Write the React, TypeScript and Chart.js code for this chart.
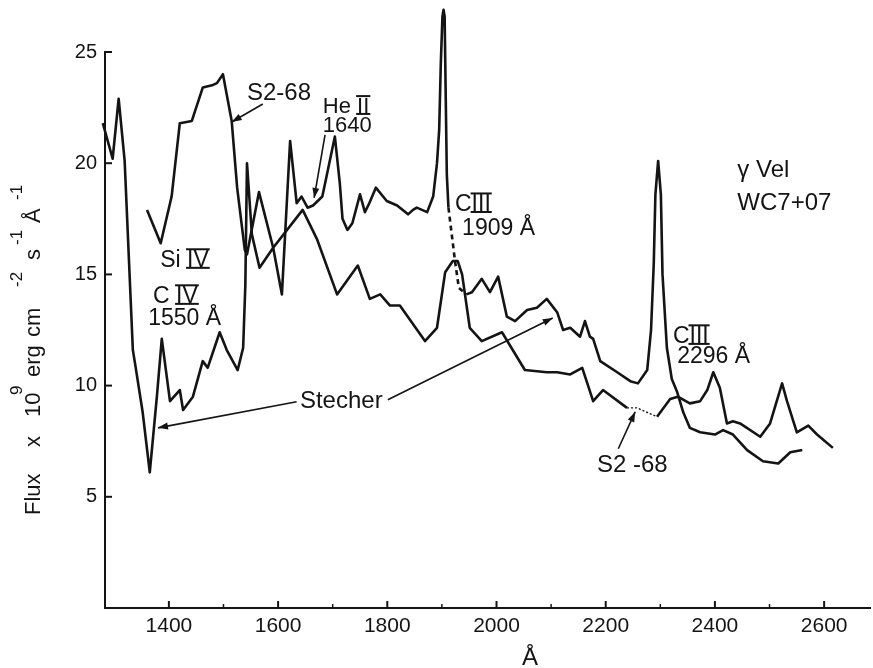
import React, { useEffect, useRef } from "react";
import { Chart, registerables } from "chart.js";

Chart.register(...registerables);

// ---- data (wavelength in Å, flux ×10^9 erg cm^-2 s^-1 Å^-1) ----
const STECHER_WL = [
  1279, 1297, 1308, 1319, 1334, 1338, 1352, 1365, 1378, 1387, 1402, 1420, 1426, 1444, 1462, 1471, 1493, 1506,
  1526, 1536, 1540, 1543, 1552, 1566, 1591, 1607, 1622, 1634, 1643, 1654, 1664, 1681, 1704, 1713, 1718, 1727,
  1736, 1750, 1759, 1767, 1779, 1799, 1818, 1838, 1847, 1854, 1873, 1884, 1891, 1895, 1898, 1901, 1903, 1905,
  1907, 1909, 1912, 1924, 1931, 1945, 1955, 1973, 1988, 2003, 2019, 2034, 2056, 2074, 2092, 2111, 2122, 2135,
  2153, 2162, 2171, 2177, 2190, 2221, 2245, 2259, 2276, 2283, 2288, 2291, 2296, 2301, 2304, 2312, 2321, 2331,
  2342, 2354, 2373, 2400, 2415, 2433, 2459, 2488, 2516, 2538, 2560,
];
const STECHER_FLUX = [
  21.8, 20.2, 22.9, 20.1, 11.6, 11.0, 8.8, 6.1, 9.5, 12.1, 9.3, 9.8, 8.9, 9.5, 11.1, 10.8, 12.4, 11.6,
  10.7, 11.7, 14.5, 20.0, 16.8, 15.3, 16.2, 14.1, 21.0, 18.2, 18.5, 18.0, 18.1, 18.5, 21.2, 19.1, 17.5, 17.0,
  17.3, 18.6, 17.8, 18.2, 18.9, 18.3, 18.1, 17.7, 17.9, 18.0, 17.8, 18.5, 20.0, 21.5, 24.5, 26.6, 26.9, 26.6,
  23.0, 19.5, 18.0, 15.6, 14.4, 14.1, 14.2, 14.8, 14.2, 14.9, 13.1, 12.9, 13.4, 13.5, 13.9, 13.3, 12.5, 12.6,
  12.2, 12.9, 12.2, 12.1, 11.1, 10.6, 10.2, 10.1, 10.7, 12.5, 15.5, 18.6, 20.1, 18.6, 15.0, 11.7, 10.3, 9.7,
  8.8, 8.1, 7.9, 7.8, 8.0, 7.8, 7.1, 6.6, 6.5, 7.0, 7.1,
];
const S268_WL = [
  1360, 1385, 1405, 1420, 1442, 1462, 1479, 1488, 1499, 1515, 1525, 1534, 1539, 1543, 1565, 1591, 1645, 1671,
  1708, 1746, 1768, 1787, 1805, 1823, 1869, 1891, 1906, 1920, 1929, 1937, 1951, 1973, 2010, 2052, 2092, 2111,
  2135, 2157, 2177, 2195, 2239, 2257, 2294, 2318, 2332, 2354, 2373, 2386, 2397, 2409, 2422, 2433, 2446, 2483,
  2501, 2523, 2532, 2550, 2571, 2587, 2616,
];
const S268_FLUX = [
  17.9, 16.4, 18.5, 21.8, 21.9, 23.4, 23.5, 23.6, 24.0, 21.9, 18.9, 17.1, 16.1, 15.9, 18.7, 16.2, 17.9, 16.6,
  14.1, 15.4, 13.9, 14.1, 13.6, 13.6, 12.0, 12.6, 15.1, 15.6, 15.6, 15.0, 12.6, 12.0, 12.4, 10.7, 10.6, 10.6,
  10.5, 10.8, 9.3, 9.8, 9.0, 9.0, 8.6, 9.4, 9.5, 9.2, 9.3, 9.8, 10.6, 9.9, 8.3, 8.4, 8.3, 7.7,
  8.3, 10.1, 9.3, 7.9, 8.2, 7.8, 7.2,
];
const STECHER_DASHED = [1912, 1945];
const S268_DOTTED = [2239, 2294];

const X_MIN = 1283;
const X_MAX = 2684;
const Y_MIN = 0;
const Y_MAX = 25;
const X_TICKS = [1400, 1600, 1800, 2000, 2200, 2400, 2600];
const X_MINOR = [1500, 1700, 1900, 2100, 2300, 2500];
const Y_TICKS = [5, 10, 15, 20, 25];

// annotation texts, anchored in data units (left edge, baseline)
type Part = { t: string; roman?: boolean };
const LABELS: { parts: Part[]; wl: number; flux: number; size: number }[] = [
  { parts: [{ t: "S2-68" }], wl: 1543, flux: 22.84, size: 24 },
  { parts: [{ t: "He " }, { t: "II", roman: true }], wl: 1682, flux: 22.26, size: 22 },
  { parts: [{ t: "1640" }], wl: 1682, flux: 21.4, size: 22 },
  { parts: [{ t: "Si " }, { t: "IV", roman: true }], wl: 1384, flux: 15.34, size: 23 },
  { parts: [{ t: "C " }, { t: "IV", roman: true }], wl: 1371, flux: 13.72, size: 23 },
  { parts: [{ t: "1550 Å" }], wl: 1362, flux: 12.73, size: 23 },
  { parts: [{ t: "Stecher" }], wl: 1640, flux: 9.0, size: 24 },
  { parts: [{ t: "C" }, { t: "III", roman: true }], wl: 1924, flux: 17.85, size: 23 },
  { parts: [{ t: "1909 Å" }], wl: 1937, flux: 16.77, size: 23 },
  { parts: [{ t: "γ Vel" }], wl: 2441, flux: 19.38, size: 24 },
  { parts: [{ t: "WC7+07" }], wl: 2441, flux: 17.9, size: 24 },
  { parts: [{ t: "C" }, { t: "III", roman: true }], wl: 2323, flux: 11.92, size: 23 },
  { parts: [{ t: "2296 Å" }], wl: 2331, flux: 11.02, size: 23 },
  { parts: [{ t: "S2 -68" }], wl: 2184, flux: 6.12, size: 24 },
];
// arrows: from (wl, flux) to (wl, flux), head at the end
const ARROWS = [
  [1572, 22.66, 1515, 21.85],
  [1686, 21.27, 1666, 18.44],
  [1634, 9.27, 1380, 8.1],
  [1801, 9.36, 2103, 13.04],
  [2223, 7.16, 2254, 8.82],
];

const INK = "#141414";
const FONT = "'Liberation Sans', Arial, sans-serif";

const decorPlugin = {
  id: "decor",
  afterDatasetsDraw(chart: any) {
    const { ctx, chartArea } = chart;
    const xs = chart.scales.x;
    const ys = chart.scales.y;
    ctx.save();
    ctx.strokeStyle = INK;
    ctx.fillStyle = INK;
    ctx.lineCap = "butt";

    // inward tick marks
    ctx.lineWidth = 2;
    const seg = (x1: number, y1: number, x2: number, y2: number) => {
      ctx.beginPath();
      ctx.moveTo(x1, y1);
      ctx.lineTo(x2, y2);
      ctx.stroke();
    };
    Y_TICKS.forEach((v) => {
      const py = ys.getPixelForValue(v);
      seg(chartArea.left, py, chartArea.left + 7, py);
    });
    X_TICKS.forEach((v) => {
      const px = xs.getPixelForValue(v);
      seg(px, chartArea.bottom, px, chartArea.bottom - 7);
    });
    ctx.lineWidth = 1.5;
    X_MINOR.forEach((v) => {
      const px = xs.getPixelForValue(v);
      seg(px, chartArea.bottom, px, chartArea.bottom - 4);
    });

    // text labels
    ctx.textBaseline = "alphabetic";
    ctx.textAlign = "left";
    LABELS.forEach((lab) => {
      let px = xs.getPixelForValue(lab.wl);
      const py = ys.getPixelForValue(lab.flux);
      ctx.font = `${lab.size}px ${FONT}`;
      lab.parts.forEach((p) => {
        ctx.fillText(p.t, px, py);
        const w = ctx.measureText(p.t).width;
        if (p.roman) {
          const cap = lab.size * 0.72;
          ctx.lineWidth = 2;
          seg(px - 1, py - cap - 1, px + w + 1, py - cap - 1);
          seg(px - 1, py + 1, px + w + 1, py + 1);
        }
        px += w;
      });
    });

    // arrows
    ARROWS.forEach(([w1, f1, w2, f2]) => {
      const x1 = xs.getPixelForValue(w1);
      const y1 = ys.getPixelForValue(f1);
      const x2 = xs.getPixelForValue(w2);
      const y2 = ys.getPixelForValue(f2);
      ctx.lineWidth = 1.6;
      seg(x1, y1, x2, y2);
      const a = Math.atan2(y2 - y1, x2 - x1);
      const L = 10;
      const H = 3.5;
      ctx.beginPath();
      ctx.moveTo(x2, y2);
      ctx.lineTo(x2 - L * Math.cos(a) + H * Math.sin(a), y2 - L * Math.sin(a) - H * Math.cos(a));
      ctx.lineTo(x2 - L * Math.cos(a) - H * Math.sin(a), y2 - L * Math.sin(a) + H * Math.cos(a));
      ctx.closePath();
      ctx.fill();
    });

    // x axis title
    ctx.font = `24px ${FONT}`;
    ctx.textAlign = "center";
    ctx.fillText("Å", 530, 665);

    // y axis title (rotated, with superscripts)
    const main = `22px ${FONT}`;
    const sup = `17px ${FONT}`;
    const pieces: [string, number, boolean][] = [
      ["Flux", 515, false],
      ["x", 447, false],
      ["10", 417, false],
      ["9", 395, true],
      ["erg", 377, false],
      ["cm", 337, false],
      ["-2", 287, true],
      ["s", 260, false],
      ["-1", 245, true],
      ["Å", 223, false],
      ["-1", 200, true],
    ];
    ctx.textAlign = "left";
    pieces.forEach(([t, yStart, isSup]) => {
      ctx.save();
      ctx.translate(isSup ? 22 : 40, yStart);
      ctx.rotate(-Math.PI / 2);
      ctx.font = isSup ? sup : main;
      ctx.fillText(t, 0, 0);
      ctx.restore();
    });

    ctx.restore();
  },
};

function inRange(a: number, b: number, r: number[]) {
  return a >= r[0] && b <= r[1];
}

export default function App() {
  const ref = useRef<HTMLCanvasElement | null>(null);

  useEffect(() => {
    if (!ref.current) return;
    const lineCommon = {
      borderColor: INK,
      borderWidth: 2.6,
      pointRadius: 0,
      tension: 0,
      clip: false as any,
      borderJoinStyle: "round" as const,
      fill: false,
    };
    const chart = new Chart(ref.current, {
      type: "line",
      data: {
        datasets: [
          {
            ...lineCommon,
            label: "Stecher",
            data: STECHER_WL.map((w, i) => ({ x: w, y: STECHER_FLUX[i] })),
            segment: {
              borderDash: (c: any) =>
                inRange(STECHER_WL[c.p0DataIndex], STECHER_WL[c.p1DataIndex], STECHER_DASHED) ? [5, 4] : undefined,
            },
          },
          {
            ...lineCommon,
            label: "S2-68",
            data: S268_WL.map((w, i) => ({ x: w, y: S268_FLUX[i] })),
            segment: {
              borderDash: (c: any) =>
                inRange(S268_WL[c.p0DataIndex], S268_WL[c.p1DataIndex], S268_DOTTED) ? [2, 2] : undefined,
              borderWidth: (c: any) =>
                inRange(S268_WL[c.p0DataIndex], S268_WL[c.p1DataIndex], S268_DOTTED) ? 1.4 : undefined,
            },
          },
        ] as any,
      },
      options: {
        animation: false,
        responsive: false,
        maintainAspectRatio: false,
        events: [],
        layout: { padding: { top: 52, right: 3, left: 0, bottom: 0 } },
        plugins: { legend: { display: false }, tooltip: { enabled: false } },
        scales: {
          x: {
            type: "linear",
            min: X_MIN,
            max: X_MAX,
            afterBuildTicks: (s: any) => {
              s.ticks = X_TICKS.map((v) => ({ value: v }));
            },
            afterFit: (s: any) => {
              s.height = 60;
            },
            grid: { display: false, drawTicks: false },
            border: { display: true, color: INK, width: 2 },
            ticks: {
              color: INK,
              font: { family: FONT, size: 21 },
              padding: 6,
              maxRotation: 0,
              autoSkip: false,
              callback: (v: any) => String(v),
            },
          },
          y: {
            type: "linear",
            min: Y_MIN,
            max: Y_MAX,
            afterBuildTicks: (s: any) => {
              s.ticks = Y_TICKS.map((v) => ({ value: v }));
            },
            afterFit: (s: any) => {
              s.width = 105;
            },
            grid: { display: false, drawTicks: false },
            border: { display: true, color: INK, width: 2 },
            ticks: {
              color: INK,
              font: { family: FONT, size: 20 },
              padding: 8,
              autoSkip: false,
              callback: (v: any) => String(v),
            },
          },
        },
      } as any,
      plugins: [decorPlugin],
    });
    return () => chart.destroy();
  }, []);

  return (
    <div style={{ position: "absolute", left: 0, top: 0, width: 873, height: 668, background: "#fff" }}>
      <canvas ref={ref} width={873} height={668} style={{ display: "block" }} />
    </div>
  );
}
